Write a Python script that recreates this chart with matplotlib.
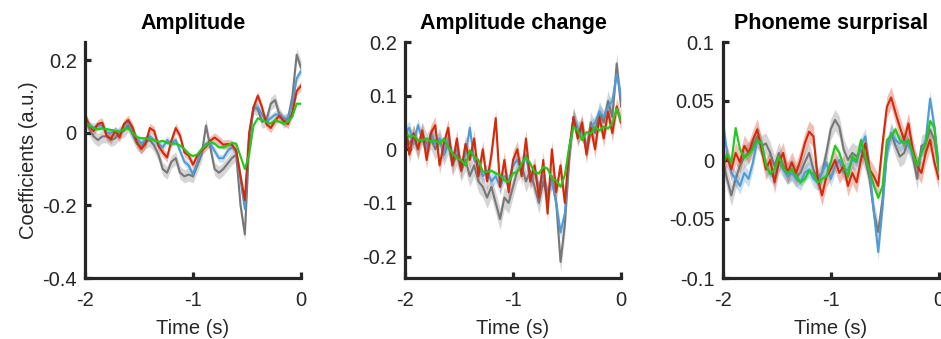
import numpy as np
import matplotlib
matplotlib.use("Agg")
from matplotlib import pyplot as plt
from matplotlib.ticker import FuncFormatter

plt.rcParams['font.family'] = ['Liberation Sans', 'DejaVu Sans']
plt.rcParams['axes.unicode_minus'] = False

# time axis, 0.04 s steps from -2 to 0
t = np.linspace(-2, 0, 51)

# ---- Amplitude ----
amp_gray = [0.04, 0.01, -0.01, -0.02, -0.01, -0.01, -0.02, -0.015, 0.0, 0.005,
            0.02, -0.005, -0.03, -0.04, -0.025, -0.02, -0.035, -0.06, -0.1, -0.11,
            -0.08, -0.07, -0.11, -0.12, -0.115, -0.12, -0.09, -0.06, 0.02, -0.04,
            -0.1, -0.11, -0.1, -0.085, -0.07, -0.06, -0.2, -0.28, -0.03, 0.07,
            0.065, 0.03, 0.035, 0.08, 0.09, 0.05, 0.03, 0.04, 0.1, 0.215, 0.18]
amp_blue = [0.04, 0.02, 0.015, 0.02, 0.02, 0.0, 0.0, 0.005, 0.0, 0.02,
            0.03, 0.01, -0.015, -0.03, -0.02, -0.01, -0.02, -0.03, -0.04, -0.02,
            -0.03, -0.02, -0.05, -0.08, -0.09, -0.115, -0.08, -0.05, -0.03, -0.03,
            -0.05, -0.07, -0.07, -0.05, -0.04, -0.05, -0.13, -0.21, -0.01, 0.07,
            0.07, 0.05, 0.03, 0.04, 0.05, 0.05, 0.04, 0.04, 0.08, 0.15, 0.17]
amp_red = [0.047, 0.019, 0.005, 0.024, 0.028, -0.008, -0.017, 0.005, -0.013, 0.024,
           0.035, 0.015, -0.026, -0.045, -0.031, 0.013, 0.005, -0.036, -0.054, -0.068,
           -0.022, 0.013, -0.008, -0.054, -0.063, -0.088, -0.063, -0.049, -0.038, -0.022,
           -0.013, -0.022, -0.033, -0.031, -0.033, -0.049, -0.118, -0.186, 0.0, 0.07,
           0.102, 0.069, 0.024, 0.013, 0.033, 0.047, 0.033, 0.024, 0.056, 0.115, 0.129]
amp_green = [0.03, 0.02, 0.012, 0.01, 0.012, 0.01, 0.008, 0.005, 0.003, 0.01,
             0.012, 0.0, -0.012, -0.015, -0.015, -0.018, -0.02, -0.025, -0.022, -0.028,
             -0.03, -0.03, -0.035, -0.045, -0.058, -0.064, -0.06, -0.045, -0.035, -0.025,
             -0.03, -0.04, -0.04, -0.035, -0.028, -0.03, -0.065, -0.1, -0.06, 0.02,
             0.04, 0.035, 0.03, 0.025, 0.035, 0.03, 0.025, 0.03, 0.045, 0.08, 0.08]
amp_sem = [0.018, 0.011, 0.013, 0.004]

# ---- Amplitude change ----
chg_gray = [0.03, 0.01, 0.025, 0.0, 0.03, 0.01, 0.02, 0.0, 0.02, -0.01,
            0.01, -0.03, -0.01, -0.04, -0.02, -0.05, -0.03, -0.06, -0.07, -0.09,
            -0.07, -0.1, -0.13, -0.09, -0.1, -0.07, -0.04, -0.03, -0.06, -0.04,
            -0.07, -0.1, -0.06, -0.09, -0.05, -0.1, -0.21, -0.14, -0.02, 0.06,
            0.03, 0.04, 0.0, 0.05, 0.03, 0.07, 0.05, 0.09, 0.06, 0.16, 0.08]
chg_blue = [0.03, 0.04, 0.01, 0.045, 0.02, 0.0, 0.03, 0.01, 0.02, -0.01,
            0.02, -0.01, 0.0, -0.03, -0.01, 0.04, -0.02, -0.03, -0.05, -0.04,
            -0.06, -0.05, -0.07, -0.05, -0.06, -0.03, -0.02, -0.04, -0.01, -0.06,
            -0.04, -0.07, -0.05, -0.08, -0.06, -0.1, -0.155, -0.12, -0.01, 0.06,
            0.04, 0.03, 0.0, 0.04, 0.05, 0.07, 0.06, 0.08, 0.09, 0.14, 0.1]
chg_red = [0.05, -0.01, 0.03, 0.0, 0.035, -0.02, 0.03, 0.045, -0.03, 0.01,
           0.04, -0.03, 0.02, -0.04, 0.01, -0.02, 0.02, -0.05, 0.0, -0.06,
           -0.01, 0.058, -0.07, -0.02, -0.08, -0.02, 0.0, -0.05, 0.02, -0.06,
           -0.03, -0.09, -0.02, -0.12, 0.0, -0.08, -0.03, -0.1, 0.0, 0.06,
           0.02, 0.05, -0.01, 0.04, 0.0, 0.06, 0.02, 0.07, 0.03, 0.08, 0.05]
chg_green = [0.032, 0.023, 0.025, 0.017, 0.017, 0.02, 0.014, 0.017, 0.01, 0.02,
             0.004, -0.008, -0.017, -0.02, -0.03, -0.002, -0.014, -0.02, -0.042, -0.042,
             -0.04, -0.045, -0.048, -0.058, -0.061, -0.045, -0.042, -0.027, -0.014, -0.027,
             -0.042, -0.045, -0.033, -0.036, -0.055, -0.058, -0.07, -0.048, 0.004, 0.042,
             0.035, 0.017, 0.032, 0.029, 0.042, 0.035, 0.042, 0.039, 0.048, 0.076, 0.054]
chg_sem = [0.02, 0.013, 0.016, 0.004]

# ---- Phoneme surprisal ----
sur_gray = [0.0, -0.016, -0.03, -0.016, -0.005, 0.003, 0.006, 0.012, 0.02, 0.012,
            0.014, 0.006, -0.005, 0.006, -0.005, -0.011, -0.008, -0.014, -0.011, -0.002,
            0.006, -0.008, -0.016, -0.011, 0.006, 0.026, 0.034, 0.028, 0.009, 0.0,
            0.006, 0.003, 0.009, 0.0, -0.016, -0.044, -0.061, -0.033, 0.009, 0.023,
            0.012, 0.003, 0.006, 0.017, 0.003, -0.016, 0.012, 0.014, 0.026, 0.017, -0.008]
sur_blue = [0.034, 0.006, -0.011, -0.016, -0.022, -0.011, -0.016, -0.002, 0.017, 0.012,
            -0.005, -0.011, -0.016, -0.002, -0.008, -0.014, -0.011, -0.016, -0.019, -0.011,
            -0.008, -0.016, -0.019, -0.011, -0.002, -0.016, -0.005, 0.0, -0.011, -0.008,
            0.0, -0.002, 0.012, 0.02, -0.008, -0.045, -0.078, -0.04, 0.006, 0.023,
            0.017, 0.014, 0.017, 0.012, 0.006, -0.005, 0.006, 0.017, 0.052, 0.028, -0.005]
sur_red = [-0.005, 0.003, -0.008, 0.006, -0.002, 0.012, 0.006, 0.017, 0.026, 0.009,
           -0.008, 0.0, -0.019, -0.002, 0.006, -0.011, -0.002, -0.011, 0.0, 0.014,
           0.024, 0.02, -0.016, -0.03, -0.014, -0.008, 0.0, -0.011, -0.005, -0.022,
           -0.011, -0.019, 0.0, 0.014, -0.008, -0.014, -0.022, 0.014, 0.045, 0.053,
           0.04, 0.028, 0.017, 0.031, 0.009, -0.005, -0.011, 0.006, 0.017, -0.002, -0.016]
sur_green = [-0.004, 0.005, -0.002, 0.027, 0.009, 0.002, 0.005, 0.009, 0.017, 0.014,
             -0.004, -0.012, -0.008, 0.003, -0.007, -0.011, -0.008, -0.014, -0.019, -0.016,
             -0.009, -0.012, -0.019, -0.016, -0.014, -0.002, 0.012, 0.006, -0.005, -0.014,
             0.003, -0.001, 0.017, 0.003, -0.009, -0.022, -0.032, -0.022, 0.017, 0.02,
             0.026, 0.017, 0.014, 0.017, 0.006, -0.005, 0.006, 0.014, 0.033, 0.028, -0.009]
sur_sem = [0.009, 0.007, 0.009, 0.003]

colors = ['#777777', '#4f9bd6', '#d22a0a', '#22c81a']

panels = [
    ("Amplitude", [amp_gray, amp_blue, amp_red, amp_green], amp_sem,
     (-0.4, 0.25), [-0.4, -0.2, 0, 0.2]),
    ("Amplitude change", [chg_gray, chg_blue, chg_red, chg_green], chg_sem,
     (-0.24, 0.2), [-0.2, -0.1, 0, 0.1, 0.2]),
    ("Phoneme surprisal", [sur_gray, sur_blue, sur_red, sur_green], sur_sem,
     (-0.1, 0.1), [-0.1, -0.05, 0, 0.05, 0.1]),
]

fig = plt.figure(figsize=(9.41, 3.39), dpi=100)
lefts = [85 / 941, 405 / 941, 722.7 / 941]
fmt = FuncFormatter(lambda v, p: '%g' % round(v, 3))

for i, (title, series, sems, ylim, yticks) in enumerate(panels):
    ax = fig.add_axes([lefts[i], 1 - 278 / 339, 216 / 941, 236 / 339])
    for vals, s, c in zip(series, sems, colors):
        vals = np.array(vals)
        ax.fill_between(t, vals - s, vals + s, color=c, alpha=0.3, lw=0)
        ax.plot(t, vals, color=c, lw=1.5)
    ax.set_xlim(-2, 0)
    ax.set_ylim(*ylim)
    ax.set_xticks([-2, -1, 0])
    ax.set_yticks(yticks)
    ax.xaxis.set_major_formatter(fmt)
    ax.yaxis.set_major_formatter(fmt)
    for side in ['top', 'right']:
        ax.spines[side].set_visible(False)
    for side in ['left', 'bottom']:
        ax.spines[side].set_linewidth(2.3)
        ax.spines[side].set_color('#262626')
    ax.tick_params(direction='in', length=4, width=2.3, labelsize=14.5,
                   colors='#262626', pad=6)
    ax.tick_params(axis='x', pad=9)
    ax.set_title(title, fontsize=15.5, fontweight='bold', pad=9)
    ax.set_xlabel('Time (s)', fontsize=14.5, color='#262626', labelpad=7)
    if i == 0:
        ax.set_ylabel('Coefficients (a.u.)', fontsize=14.5, color='#262626', labelpad=3)

fig.savefig('out.png', dpi=100)
